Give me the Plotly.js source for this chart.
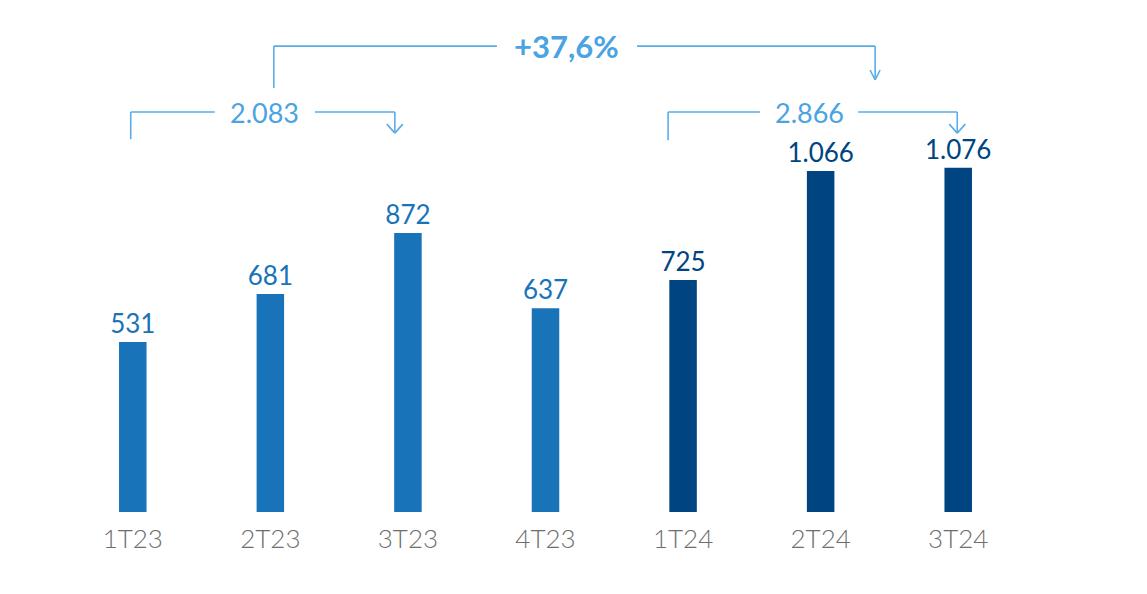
<!DOCTYPE html>
<html>
<head>
<meta charset="utf-8">
<script src="https://cdn.plot.ly/plotly-3.0.1.min.js"></script>
<style>html,body{margin:0;padding:0;background:#fff;}#chart{width:1147px;height:594px;}</style>
</head>
<body>
<div id="chart"></div>
<script>
// ---- data ----
const categories2023 = ["1T23", "2T23", "3T23", "4T23"];
const values2023 = [531, 681, 872, 637];
const categories2024 = ["1T24", "2T24", "3T24"];
const values2024 = [725, 1066, 1076];
const periodTotals = [2083, 2866];   // 9M23, 9M24
const growthPct = 37.6;

// ---- helpers ----
function fmtThousands(n) {
  return String(n).replace(/\B(?=(\d{3})+(?!\d))/g, ".");
}
function fmtPct(p) {
  return "+" + p.toFixed(1).replace(".", ",") + "%";
}

const allCats = categories2023.concat(categories2024);
const col23 = "#1973B8";
const col24 = "#004481";
const lineCol = "#5AADE7";
const txtCol = "#4AA3E2";
const FONT = "Lato, 'Open Sans', sans-serif";

const traces = [
  {
    type: "bar", x: categories2023, y: values2023, width: 0.2,
    marker: {color: col23},
    text: values2023.map(fmtThousands), textposition: "outside",
    textfont: {family: FONT, size: 26, color: col23, weight: 400},
    cliponaxis: false, constraintext: "none", hoverinfo: "x+y"
  },
  {
    type: "bar", x: categories2024, y: values2024, width: 0.2,
    marker: {color: col24},
    text: values2024.map(fmtThousands), textposition: "outside",
    textfont: {family: FONT, size: 26, color: col24, weight: 400},
    cliponaxis: false, constraintext: "none", hoverinfo: "x+y"
  }
];

// bracket decoration builder (x in category index units, y in data units)
const shapes = [];
const annotations = [];
function seg(x0, y0, x1, y1) {
  shapes.push({type: "line", xref: "x", yref: "y", x0: x0, y0: y0, x1: x1, y1: y1,
    line: {color: lineCol, width: 1.6}});
}
function chevron(x, y, hw, h) {
  [-hw, hw].forEach(function (dx) {
    shapes.push({type: "line", xref: "x", yref: "y",
      xsizemode: "pixel", xanchor: x, ysizemode: "pixel", yanchor: y,
      x0: dx, y0: h, x1: 0, y1: 0, line: {color: lineCol, width: 1.6}});
  });
}
function bracket(xl, xr, gapL, gapR, yLine, yLeftEnd, yTip, label, bold, hw, h) {
  seg(xl, yLeftEnd, xl, yLine);
  seg(xl, yLine, gapL, yLine);
  seg(gapR, yLine, xr, yLine);
  seg(xr, yLine, xr, yTip);
  chevron(xr, yTip, hw, h);
  annotations.push({xref: "x", yref: "y", x: (gapL + gapR) / 2, y: yLine,
    text: bold ? "<b>" + label + "</b>" : label, showarrow: false,
    font: {family: FONT, size: bold ? 31 : 27, color: txtCol, weight: bold ? 700 : 400},
    xanchor: "center", yanchor: "middle"});
}

bracket(-0.015, 1.905, 0.596, 1.324, 1250, 1165, 1184, fmtThousands(periodTotals[0]), false, 8, 9);
bracket(3.891, 5.993, 4.56, 5.273, 1250, 1162, 1184, fmtThousands(periodTotals[1]), false, 8, 9);
bracket(1.025, 5.396, 2.647, 3.665, 1456, 1325, 1350, fmtPct(growthPct), true, 5, 10);

const layout = {
  width: 1147, height: 594,
  margin: {l: 64.25, r: 120.25, t: 0, b: 82},
  paper_bgcolor: "#ffffff", plot_bgcolor: "#ffffff",
  barmode: "overlay", showlegend: false,
  separators: ",.",
  xaxis: {
    type: "category", categoryorder: "array", categoryarray: allCats,
    range: [-0.5, 6.5], showgrid: false, zeroline: false, showline: false,
    ticks: "", ticklabelstandoff: 9,
    tickfont: {family: FONT, size: 26, color: "#6e6e6e", weight: 300},
    fixedrange: true
  },
  yaxis: {range: [0, 1600], visible: false, showgrid: false, zeroline: false, fixedrange: true},
  shapes: shapes,
  annotations: annotations
};

Plotly.newPlot("chart", traces, layout, {displayModeBar: false, staticPlot: true});
</script>
</body>
</html>
